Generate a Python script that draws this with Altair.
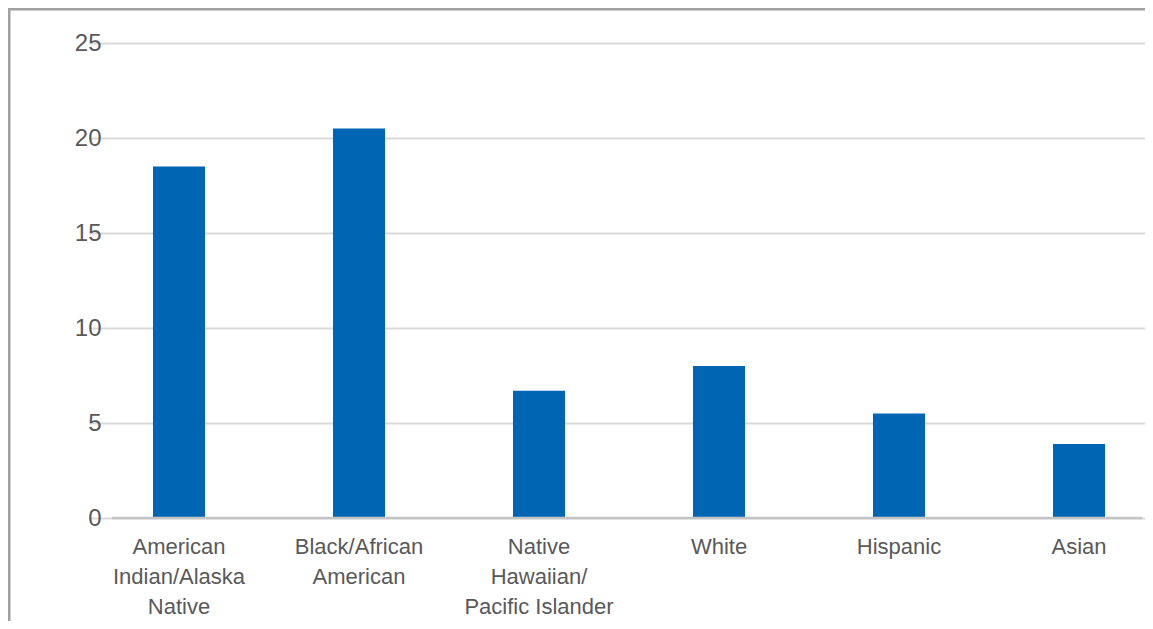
import altair as alt
import pandas as pd

categories = [
    "American Indian/Alaska Native",
    "Black/African American",
    "Native Hawaiian/Pacific Islander",
    "White",
    "Hispanic",
    "Asian",
]
values = [18.5, 20.5, 6.7, 8.0, 5.5, 3.9]
label_lines = [
    ["American", "Indian/Alaska", "Native"],
    ["Black/African", "American"],
    ["Native", "Hawaiian/", "Pacific Islander"],
    ["White"],
    ["Hispanic"],
    ["Asian"],
]
y_ticks = [0, 5, 10, 15, 20, 25]

df = pd.DataFrame({"category": categories, "value": values})

W, H = 1030, 475
PAD = {"left": 104, "top": 35, "right": 3, "bottom": 103}
FONT = "Liberation Sans"

parts = []
for c, lines in zip(categories, label_lines):
    arr = "[" + ",".join("'" + l + "'" for l in lines) + "]"
    parts.append(f"datum.label === '{c}' ? {arr}")
label_expr = " : ".join(parts) + " : datum.label"

bars = alt.Chart(df).mark_bar(color="#0066b3").encode(
    x=alt.X(
        "category:N",
        sort=categories,
        scale=alt.Scale(range=[-23, 1057], paddingInner=0.711, paddingOuter=0.3555),
        axis=alt.Axis(
            title=None,
            domain=False,
            ticks=False,
            labelAngle=0,
            labelExpr=label_expr,
            labelFont=FONT,
            labelFontSize=22,
            labelColor="#595959",
            labelLineHeight=30,
            labelPadding=18,
            labelBaseline="top",
            labelOverlap=False,
            labelFlush=False,
            labelBound=False,
        ),
    ),
    y=alt.Y(
        "value:Q",
        scale=alt.Scale(domain=[0, 25], nice=False),
        axis=alt.Axis(
            title=None,
            values=y_ticks,
            domain=False,
            ticks=False,
            grid=True,
            gridColor="#d9d9d9",
            gridWidth=2,
            labelFont=FONT,
            labelFontSize=24,
            labelColor="#595959",
            labelPadding=11,
        ),
    ),
)

one = alt.Data(values=[{}])

baseline = alt.Chart(one).mark_rule(color="#c4c4c4", strokeWidth=2.5).encode(
    x=alt.value(0), x2=alt.value(W), y=alt.value(H)
)
border_left = alt.Chart(one).mark_rule(color="#a0a0a0", strokeWidth=3).encode(
    x=alt.value(-103), y=alt.value(-35), y2=alt.value(H + PAD["bottom"])
)
border_top = alt.Chart(one).mark_rule(color="#a0a0a0", strokeWidth=3).encode(
    x=alt.value(-104), x2=alt.value(W + PAD["right"]), y=alt.value(-34)
)

chart = (
    alt.layer(bars, baseline, border_left, border_top)
    .properties(
        width=W,
        height=H,
        autosize=alt.AutoSizeParams(type="none"),
        padding=PAD,
        background="white",
    )
    .configure_view(stroke=None)
)

chart.save("out.html", embed_options={"renderer": "svg", "actions": False})
